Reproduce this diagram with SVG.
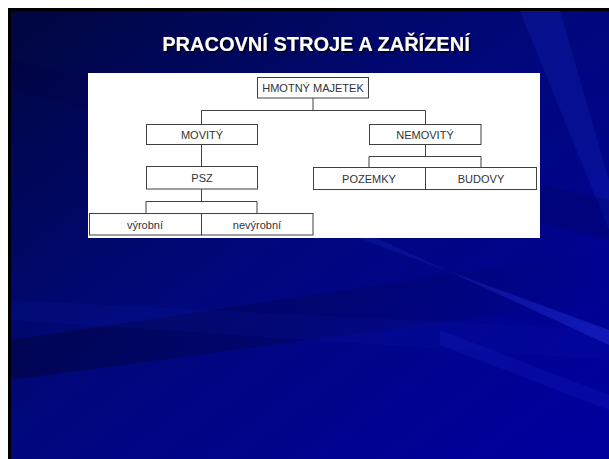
<svg xmlns="http://www.w3.org/2000/svg" width="609" height="459" viewBox="0 0 609 459">
<defs>
<linearGradient id="bg" x1="0" y1="0" x2="1" y2="1">
<stop offset="0" stop-color="#00063f"/>
<stop offset="0.45" stop-color="#00087a"/>
<stop offset="1" stop-color="#0000a0"/>
</linearGradient>
<linearGradient id="streak" x1="0" y1="0" x2="1" y2="0">
<stop offset="0" stop-color="#2a3cff" stop-opacity="0"/>
<stop offset="1" stop-color="#3a50ff" stop-opacity="0.3"/>
</linearGradient>
<linearGradient id="dark" x1="0" y1="0" x2="1" y2="0">
<stop offset="0" stop-color="#000030" stop-opacity="0.45"/>
<stop offset="1" stop-color="#000030" stop-opacity="0"/>
</linearGradient>
<filter id="sh" x="-5%" y="-20%" width="110%" height="150%">
<feDropShadow dx="1.5" dy="1.5" stdDeviation="0.6" flood-color="#000" flood-opacity="0.9"/>
</filter>
</defs>
<style>
.box{fill:#fff;stroke:#404040;stroke-width:1}
.lbl{font-family:"Liberation Sans",Arial,sans-serif;font-size:11px;fill:#333;text-anchor:middle}
.con{fill:none;stroke:#404040;stroke-width:1}
.title{font-family:"Liberation Sans",Arial,sans-serif;font-size:20px;font-weight:bold;fill:#fff;text-anchor:middle}
</style>
<rect x="0" y="0" width="609" height="459" fill="#fff"/>
<rect x="8" y="8" width="601" height="451" fill="#000"/>
<rect x="11" y="11" width="598" height="448" fill="url(#bg)"/>
<g id="streaks">
<polygon points="11,340 609,250 609,300 11,380" fill="url(#dark)"/>
<polygon points="200,180 609,330 609,345 250,180" fill="url(#streak)"/>
<polygon points="440,330 609,395 609,410 440,345" fill="#3040ff" opacity="0.12"/>
<polygon points="520,11 609,230 609,180 560,11" fill="#2030d0" opacity="0.2"/>
<polygon points="11,300 609,330 609,360 11,320" fill="#1020c0" opacity="0.12"/>
<polygon points="11,60 609,200 609,240 11,90" fill="#000040" opacity="0.2"/>
</g>
<text class="title" x="316" y="51" filter="url(#sh)">PRACOVNÍ STROJE A ZAŘÍZENÍ</text>
<rect id="panel" x="88" y="73" width="452" height="165" fill="#fff"/>
<g id="connectors">
<path class="con" d="M313,98V110.5M201.5,110.5H425.5M201.5,110.5V124M425.5,110.5V124"/>
<path class="con" d="M201.5,144V166.5"/>
<path class="con" d="M201.5,189V201.5M146,201.5H257M146,201.5V213M257,201.5V213"/>
<path class="con" d="M425.5,144V156.5M369,156.5H481M369,156.5V167M481,156.5V167"/>
</g>
<g id="n-hmotny"><rect class="box" x="257.5" y="77.5" width="111" height="20.5"/><text class="lbl" x="313" y="92">HMOTNÝ MAJETEK</text></g>
<g id="n-movity"><rect class="box" x="146.5" y="124.5" width="111" height="20"/><text class="lbl" x="202" y="138.5">MOVITÝ</text></g>
<g id="n-nemovity"><rect class="box" x="369.5" y="124.5" width="111.5" height="20"/><text class="lbl" x="425" y="138.5">NEMOVITÝ</text></g>
<g id="n-psz"><rect class="box" x="146.5" y="166.5" width="111" height="22.5"/><text class="lbl" x="202" y="182">PSZ</text></g>
<g id="n-pozemky"><rect class="box" x="313.5" y="167.5" width="112" height="22"/><text class="lbl" x="369" y="182.5">POZEMKY</text></g>
<g id="n-budovy"><rect class="box" x="425.5" y="167.5" width="111" height="22"/><text class="lbl" x="481" y="182.5">BUDOVY</text></g>
<g id="n-vyrobni"><rect class="box" x="89.5" y="213.5" width="112" height="21.5"/><text class="lbl" x="145" y="228.5">výrobní</text></g>
<g id="n-nevyrobni"><rect class="box" x="201.5" y="213.5" width="111.5" height="21.5"/><text class="lbl" x="257" y="228.5">nevýrobní</text></g>
</svg>
